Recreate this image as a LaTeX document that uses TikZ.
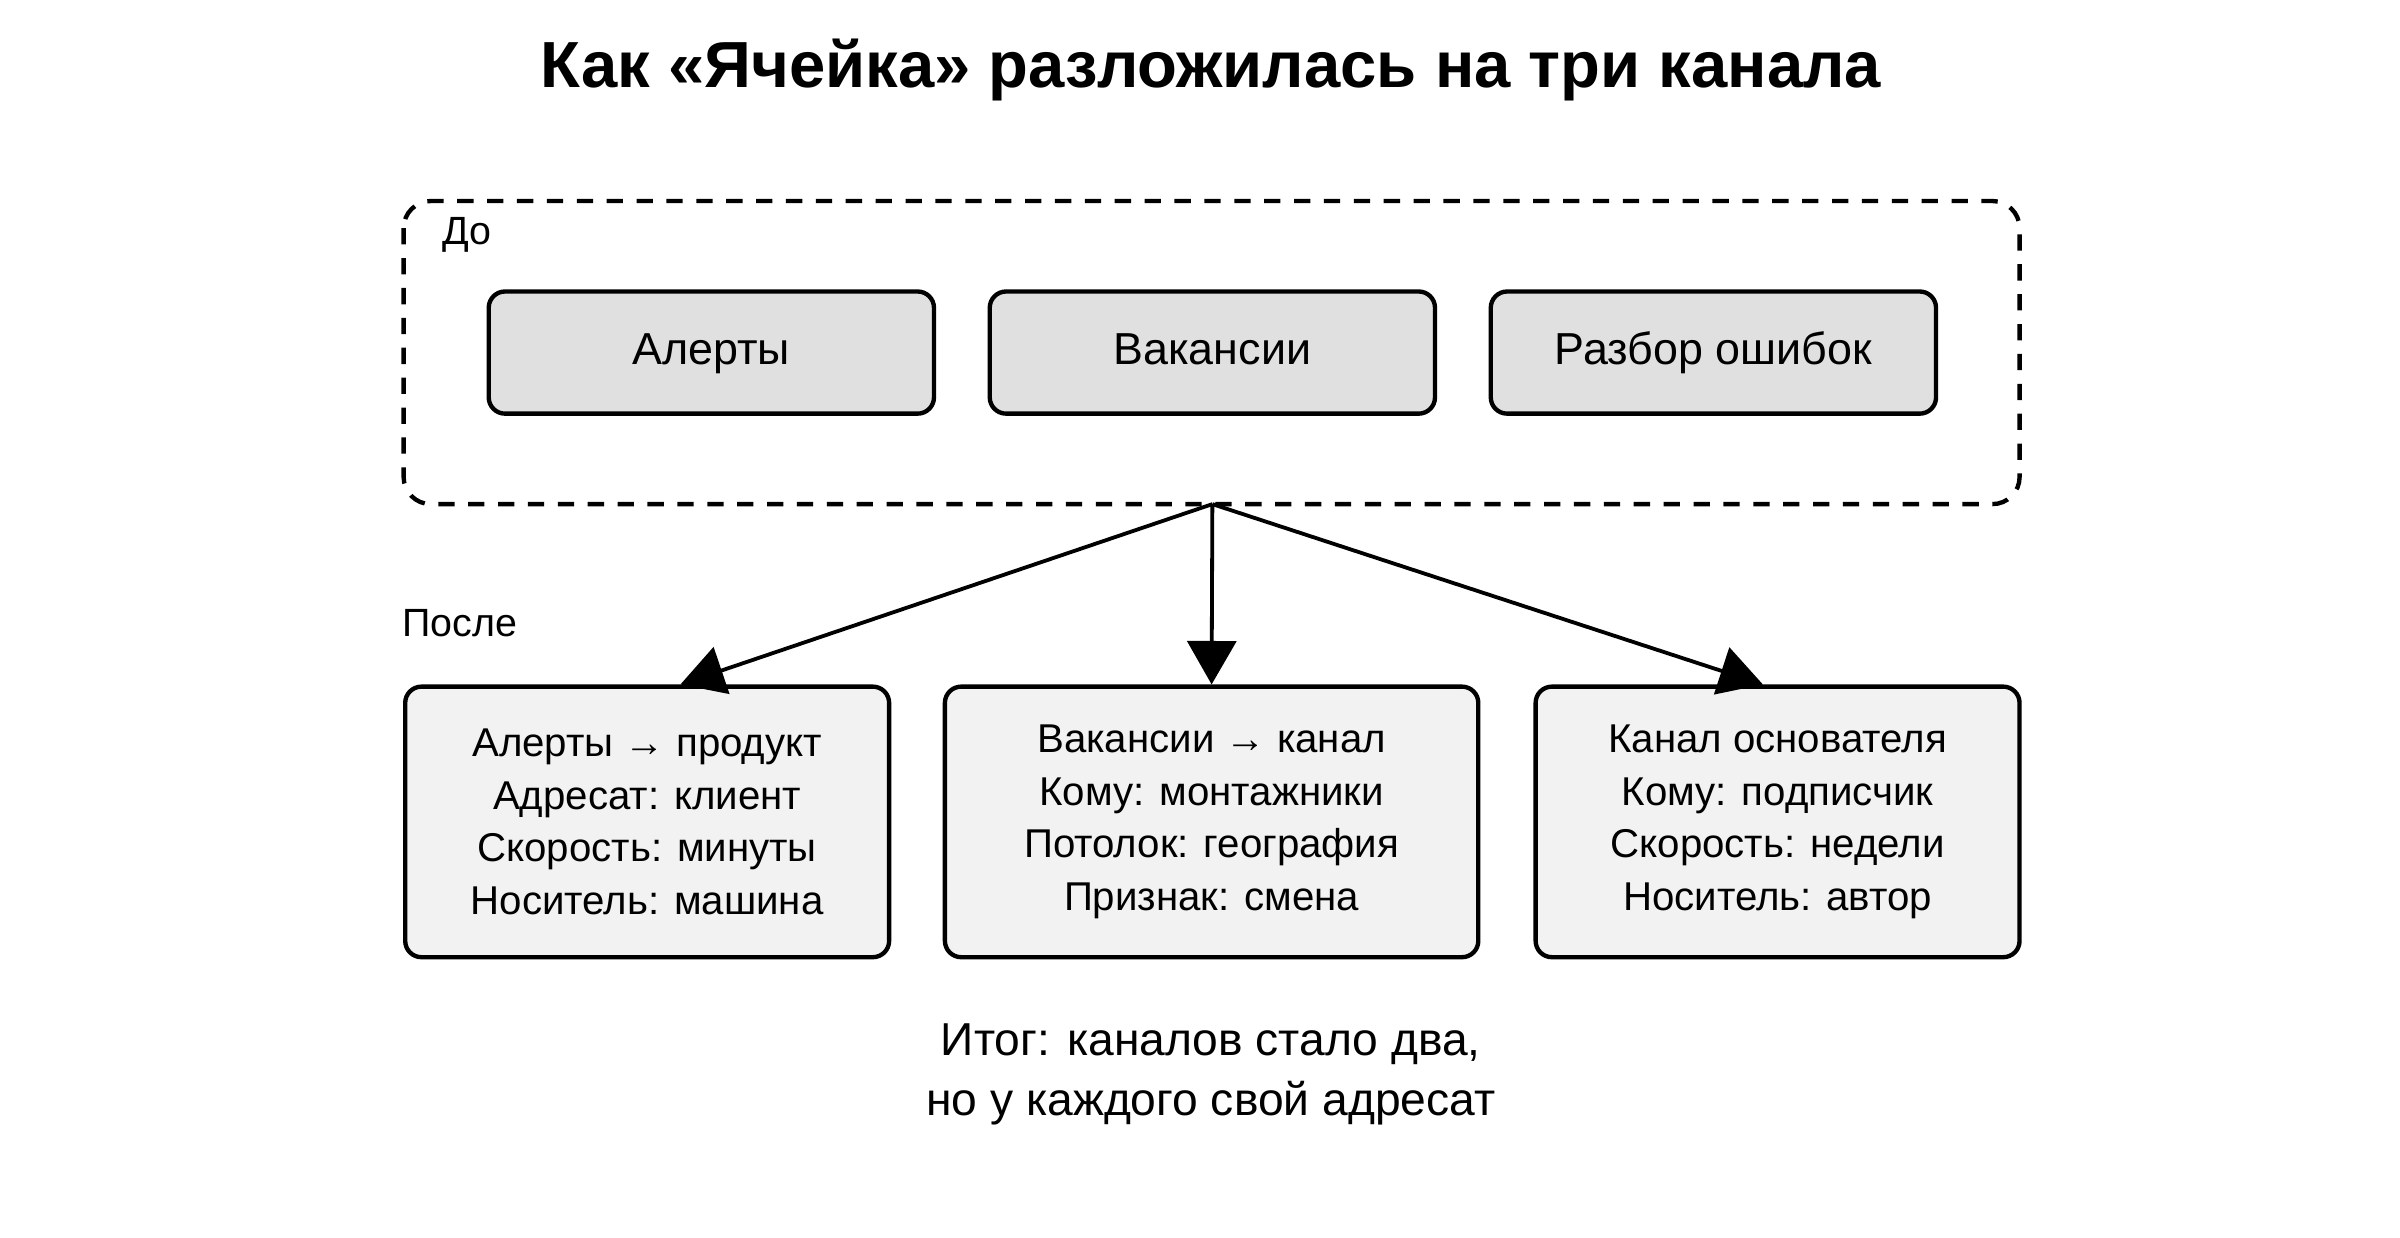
\documentclass[tikz,border=0pt]{standalone}
\usepackage{fontspec}
\setmainfont{Liberation Sans}
\usetikzlibrary{arrows.meta}
\usetikzlibrary{positioning}
\definecolor{topfill}{HTML}{E0E0E0}
\definecolor{botfill}{HTML}{F2F2F2}
\tikzset{
  topbox/.style={draw, line width=1.6pt, rounded corners=6pt, fill=topfill, minimum width=5.76cm, minimum height=1.58cm, text height=12pt, text depth=3pt, font=\fontsize{16.5}{20}\selectfont},
  botbox/.style={draw, line width=1.6pt, rounded corners=6pt, fill=botfill, minimum height=3.5cm, align=center, font=\fontsize{14.8}{19.4}\selectfont},
  split/.style={line width=1.4pt, -{Triangle[length=16pt, width=18pt]}}
}

\begin{document}
\begin{tikzpicture}[x=0.02cm, y=-0.02cm]
      \useasboundingbox (0,0) rectangle (1552,800);

      % Title
      \node (title) at (783,45) {\fontsize{24}{28}\selectfont\bfseries Как «Ячейка» разложилась на три канала};

      % Before
      \draw[line width=1.6pt, dash pattern=on 6pt off 5pt, rounded corners=10pt] (261,130) rectangle (1306,326);
      \coordinate (split) at (784,326);
      \node[anchor=west, font=\fontsize{14.5}{18}\selectfont] (before) at (280,152) {До};
      \node[topbox] (alerts) at (460,228) {Алерты};
      \node[topbox] (jobs) at (784,228) {Вакансии};
      \node[topbox] (errors) at (1108,228) {Разбор ошибок};

      % After
      \node[anchor=west, font=\fontsize{14.5}{18}\selectfont] (after) at (254,403) {После};
      \node[botbox, minimum width=6.26cm] (chalerts) at (418.5,531.5) {Алерты → продукт\\Адресат: клиент\\Скорость: минуты\\Носитель: машина};
      \node[botbox, minimum width=6.9cm] (chjobs) at (783.5,531.5) {Вакансии → канал\\Кому: монтажники\\Потолок: география\\Признак: смена};
      \node[botbox, minimum width=6.26cm] (chfounder) at (1149.5,531.5) {Канал основателя\\Кому: подписчик\\Скорость: недели\\Носитель: автор};

      % Arrows
      \draw[split] (split) -- (chalerts.north-|440,0);
      \draw[split] (split) -- (chjobs.north);
      \draw[split] (split) -- (chfounder.north-|1140,0);

      % Result
      \node[align=center, font=\fontsize{17}{22}\selectfont] (result) at (783,695) {Итог: каналов стало два,\\но у каждого свой адресат};

\end{tikzpicture}
\end{document}
